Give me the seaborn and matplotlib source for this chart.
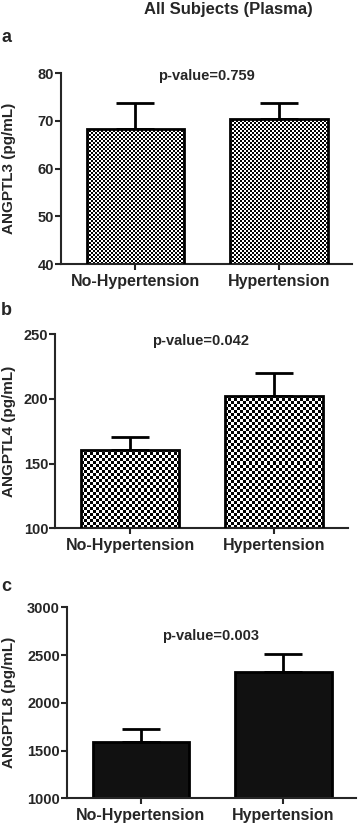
import numpy as np
import pandas as pd
import seaborn as sns
import matplotlib.pyplot as plt

# values (mean, upper error bar)
groups = ['No-Hypertension', 'Hypertension']
angptl3_mean = [68.4, 70.5]
angptl3_err = [5.4, 3.2]
angptl4_mean = [160.5, 202.0]
angptl4_err = [10.0, 17.8]
angptl8_mean = [1586, 2319]
angptl8_err = [136, 189]

pvals = ['p-value=0.759', 'p-value=0.042', 'p-value=0.003']
ylabels = ['ANGPTL3 (pg/mL)', 'ANGPTL4 (pg/mL)', 'ANGPTL8 (pg/mL)']
ylims = [(40, 80), (100, 250), (1000, 3000)]
yticks = [[40, 50, 60, 70, 80], [100, 150, 200, 250], [1000, 1500, 2000, 2500, 3000]]

sns.set_style('ticks')
plt.rcParams['font.family'] = ['Liberation Sans', 'DejaVu Sans']
plt.rcParams['font.weight'] = 'bold'

fig = plt.figure(figsize=(3.58, 8.23), dpi=100)

# axes boxes in figure fractions
boxes = [[0.170, 0.679, 0.813, 0.232],
         [0.154, 0.358, 0.818, 0.236],
         [0.187, 0.030, 0.807, 0.232]]
cells = [2.0, 3.0, None]   # checker cell size in px, None = solid
letters = [('a', 0.954), ('b', 0.623), ('c', 0.287)]
ptext = [(0.578, 0.908), (0.559, 0.586), (0.587, 0.227)]
means = [angptl3_mean, angptl4_mean, angptl8_mean]
errs = [angptl3_err, angptl4_err, angptl8_err]


def checker(ax, patch, cell):
    # fill a bar with a black/white checkerboard clipped to the bar
    x0, w, h = patch.get_x(), patch.get_width(), patch.get_height()
    ylo = ax.get_ylim()[0]
    p0 = ax.transData.transform((x0, ylo))
    p1 = ax.transData.transform((x0 + w, h))
    nx = max(1, int(round(abs(p1[0] - p0[0]) / cell)))
    ny = max(1, int(round(abs(p1[1] - p0[1]) / cell)))
    board = (np.indices((ny, nx)).sum(axis=0) % 2).astype(float)
    im = ax.imshow(board, cmap='gray', vmin=0, vmax=1, interpolation='nearest',
                   extent=(x0, x0 + w, ylo, h), aspect='auto', zorder=2)
    im.set_clip_path(patch)
    patch.set_facecolor('none')
    patch.set_zorder(3)


for i in range(3):
    ax = fig.add_axes(boxes[i])
    df = pd.DataFrame({'group': groups, 'value': means[i]})
    sns.barplot(data=df, x='group', y='value', ax=ax, color='#111111',
                width=0.68, edgecolor='black', linewidth=2, saturation=1)
    ax.set_ylim(*ylims[i])
    ax.set_xlim(-0.52, 1.51)
    ax.set_yticks(yticks[i])
    bars = list(ax.patches)
    centers = [b.get_x() + b.get_width() / 2 for b in bars]
    ax.errorbar(centers, means[i], yerr=[np.zeros(2), errs[i]], fmt='none',
                ecolor='black', elinewidth=2, capsize=13.5, capthick=2, zorder=1)
    if cells[i] is not None:
        for b in bars:
            checker(ax, b, cells[i])
    sns.despine(ax=ax)
    for s in ['left', 'bottom']:
        ax.spines[s].set_linewidth(1.5)
    ax.tick_params(axis='both', length=4, width=1.5, direction='out')
    ax.tick_params(axis='y', labelsize=10.5, pad=1)
    ax.tick_params(axis='x', labelsize=11.5, pad=3)
    ax.set_xlabel('')
    ax.set_ylabel(ylabels[i], fontsize=11, fontweight='bold')
    ax.yaxis.set_label_coords(0.044, boxes[i][1] + boxes[i][3] / 2,
                              transform=fig.transFigure)
    for lab in ax.get_xticklabels() + ax.get_yticklabels():
        lab.set_fontweight('bold')
    fig.text(ptext[i][0], ptext[i][1], pvals[i], ha='center', va='center',
             fontsize=10.5, fontweight='bold')
    fig.text(0.003, letters[i][1], letters[i][0], ha='left', va='center',
             fontsize=13, fontweight='bold')

fig.text(0.637, 0.988, 'All Subjects (Plasma)', ha='center', va='center',
         fontsize=12, fontweight='bold')

fig.savefig('out.png', dpi=100)
